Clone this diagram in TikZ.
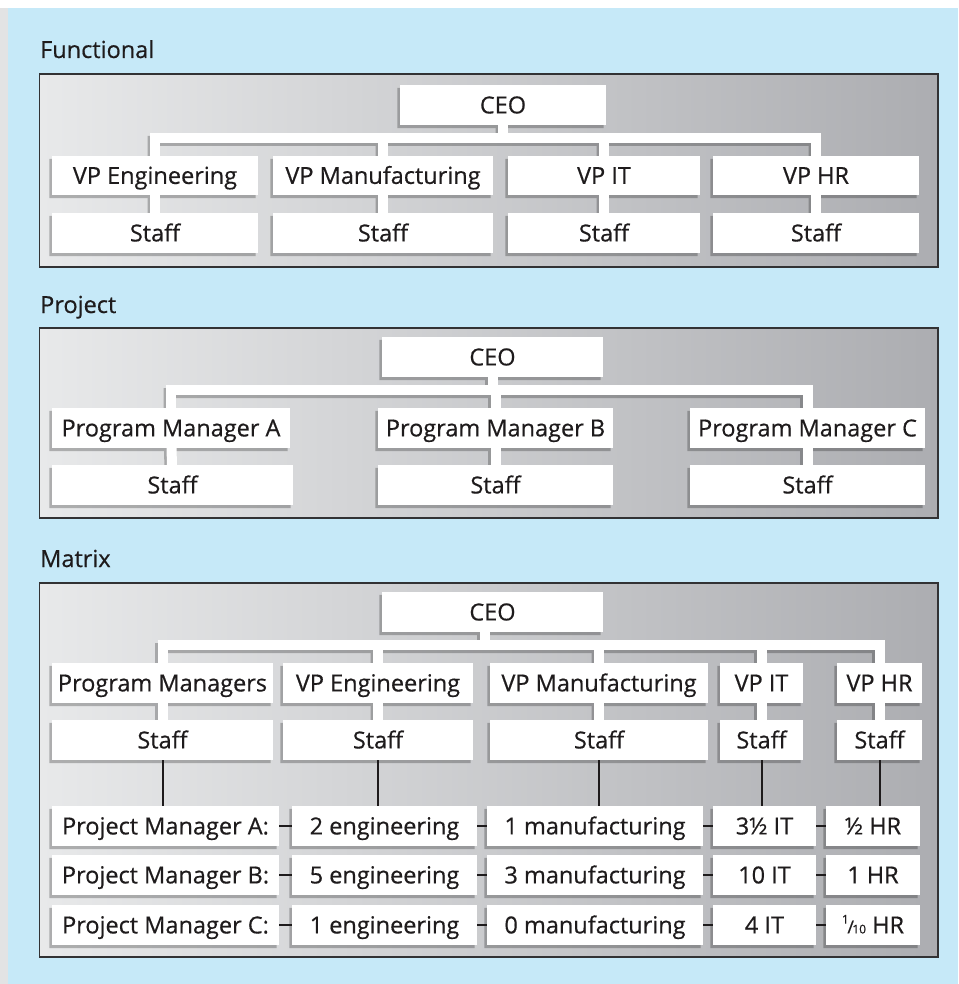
\documentclass[tikz,border=0pt]{standalone}
\usepackage{fontspec}
\setmainfont{Open Sans}[FakeBold=0.5]
\usetikzlibrary{calc}
\pgfdeclarelayer{panel}
\pgfdeclarelayer{shad}
\pgfdeclarelayer{conn}
\pgfsetlayers{panel,shad,conn,main}
\definecolor{skyb}{RGB}{198,233,248}
\definecolor{lgray}{RGB}{226,227,228}
\definecolor{txt}{RGB}{30,27,28}
\definecolor{pl}{RGB}{232,233,234}
\definecolor{pr}{RGB}{172,173,177}
\definecolor{pborder}{RGB}{50,50,52}
\newcommand\tenth{\raisebox{0.42em}{\fontsize{12}{12}\selectfont 1}\kern-0.06em{\fontsize{18}{18}\selectfont /}\kern-0.07em{\fontsize{12}{12}\selectfont 10}}
\newcommand\bx[6]{\node[box,minimum width={#4-#2},minimum height={#5-#3}] (#1) at ({(#2+#4)/2},{(#3+#5)/2}) {#6};}
\tikzset{
  box/.style={fill=white, inner sep=0pt, text=txt, font=\fontsize{23.5}{28}\selectfont, text height=16.8pt, text depth=0pt},
  lbl/.style={text=txt, font=\fontsize{23.5}{28}\selectfont, inner sep=0pt, anchor=base west},
  panelbox/.style={left color=pl, right color=pr, draw=pborder, line width=1.3pt},
  wline/.style={draw=white, line width=10pt, line join=miter},
  sline/.style={draw=black, line width=10pt, line join=miter},
  bline/.style={draw=txt, line width=2pt},
}
\newcommand\trees[1]{%
  % functional
  \draw[#1] (fceo.center) -- (fceo.center |- fbar);
  \draw[#1] (fv1.center) -- (fv1.center |- fbar) -- (fv4.center |- fbar) -- (fv4.center);
  \draw[#1] (fv2.center) -- (fv2.center |- fbar);
  \draw[#1] (fv3.center) -- (fv3.center |- fbar);
  \foreach \i in {1,2,3,4}{\draw[#1] (fv\i.center) -- (fs\i.center);}
  % project
  \draw[#1] (pceo.center) -- (pceo.center |- pbar);
  \draw[#1] (pv1.center) -- (pv1.center |- pbar) -- (pv3.center |- pbar) -- (pv3.center);
  \draw[#1] (pv2.center) -- (pv2.center |- pbar);
  \foreach \i in {1,2,3}{\draw[#1] (pv\i.center) -- (ps\i.center);}
  % matrix
  \draw[#1] (mdrop) -- (mdrop |- mbar);
  \draw[#1] (mv1.center) -- (mv1.center |- mbar) -- (mv5.center |- mbar) -- (mv5.center);
  \foreach \i in {2,3,4}{\draw[#1] (mv\i.center) -- (mv\i.center |- mbar);}
  \foreach \i in {1,2,3,4,5}{\draw[#1] (mv\i.center) -- (ms\i.center);}
}
\begin{document}
\begin{tikzpicture}[x=1pt,y=-1pt]
\begin{pgfonlayer}{panel}
\fill[white] (0,0) rectangle (958,984);
\fill[lgray] (0,8) rectangle (8,984);
\fill[skyb] (8,8) rectangle (958,984);
\draw[panelbox] (39.5,74) rectangle (938,267);
\draw[panelbox] (39.5,328) rectangle (938,518);
\draw[panelbox] (39.5,583) rectangle (938,957);
\end{pgfonlayer}

\node[lbl] (lf) at (40,58) {Functional};
\node[lbl] (lp) at (40,313) {Project};
\node[lbl] (lm) at (40,567) {Matrix};

% Functional
\bx{fceo}{400}{85}{606}{125}{CEO}
\bx{fv1}{52}{156}{258}{195}{VP Engineering}
\bx{fv2}{273}{156}{493}{195}{VP Manufacturing}
\bx{fv3}{508}{156}{700}{195}{VP IT}
\bx{fv4}{713}{156}{919}{195}{VP HR}
\bx{fs1}{52}{213}{258}{253}{Staff}
\bx{fs2}{273}{213}{493}{253}{Staff}
\bx{fs3}{508}{213}{700}{253}{Staff}
\bx{fs4}{713}{213}{919}{253}{Staff}
\coordinate (fbar) at (0,138);

% Project
\bx{pceo}{382}{337}{603}{377}{CEO}
\bx{pv1}{52}{408}{290}{448}{Program Manager A}
\bx{pv2}{378}{408}{613}{448}{Program Manager B}
\bx{pv3}{690}{408}{925}{448}{Program Manager C}
\bx{ps1}{52}{465}{293}{505}{Staff}
\bx{ps2}{378}{465}{613}{505}{Staff}
\bx{ps3}{690}{465}{925}{505}{Staff}
\coordinate (pbar) at (0,390);

% Matrix
\bx{mceo}{382}{592}{603}{632}{CEO}
\bx{mv1}{52}{663}{273}{703}{Program Managers}
\bx{mv2}{283}{663}{473}{703}{VP Engineering}
\bx{mv3}{490}{663}{708}{703}{VP Manufacturing}
\bx{mv4}{720}{663}{803}{703}{VP IT}
\bx{mv5}{837}{663}{922}{703}{VP HR}
\bx{ms1}{52}{720}{273}{760}{Staff}
\bx{ms2}{283}{720}{473}{760}{Staff}
\bx{ms3}{490}{720}{708}{760}{Staff}
\bx{ms4}{720}{720}{803}{760}{Staff}
\bx{ms5}{837}{720}{922}{760}{Staff}
\coordinate (mbar) at (0,645);
\path ($(mceo.center)+(-8,0)$) coordinate (mdrop);

\bx{a1}{52}{806}{279}{846}{Project Manager A:}
\bx{a2}{292}{806}{477}{846}{2 engineering}
\bx{a3}{487}{806}{703}{846}{1 manufacturing}
\bx{a4}{713}{806}{816}{846}{3½ IT}
\bx{a5}{826}{806}{920}{846}{½ HR}
\bx{b1}{52}{855}{279}{895}{Project Manager B:}
\bx{b2}{292}{855}{477}{895}{5 engineering}
\bx{b3}{487}{855}{703}{895}{3 manufacturing}
\bx{b4}{713}{855}{816}{895}{10 IT}
\bx{b5}{826}{855}{920}{895}{1 HR}
\bx{c1}{52}{905}{279}{945}{Project Manager C:}
\bx{c2}{292}{905}{477}{945}{1 engineering}
\bx{c3}{487}{905}{703}{945}{0 manufacturing}
\bx{c4}{713}{905}{816}{945}{4 IT}
\bx{c5}{826}{905}{920}{945}{\tenth\ HR}

% shadows
\begin{pgfonlayer}{shad}
\begin{scope}[transparency group, opacity=0.25]
\begin{scope}[transform canvas={xshift=-2.5pt,yshift=-3pt}]
\foreach \n in {fceo,fv1,fv2,fv3,fv4,fs1,fs2,fs3,fs4,pceo,pv1,pv2,pv3,ps1,ps2,ps3,mceo,mv1,mv2,mv3,mv4,mv5,ms1,ms2,ms3,ms4,ms5,a1,a2,a3,a4,a5,b1,b2,b3,b4,b5,c1,c2,c3,c4,c5}{
  \fill[black] (\n.north west) rectangle (\n.south east);
}
\trees{sline}
\end{scope}
\end{scope}
\end{pgfonlayer}

% white connectors
\begin{pgfonlayer}{conn}
\trees{wline}
\foreach \i in {1,...,5}{\draw[bline] (ms\i.south) -- (ms\i.south |- a1.north);}
\foreach \r in {a,b,c}{
  \draw[bline] (\r1.east) -- (\r2.west);
  \draw[bline] (\r2.east) -- (\r3.west);
  \draw[bline] (\r3.east) -- (\r4.west);
  \draw[bline] (\r4.east) -- (\r5.west);
}
\end{pgfonlayer}
\end{tikzpicture}
\end{document}
